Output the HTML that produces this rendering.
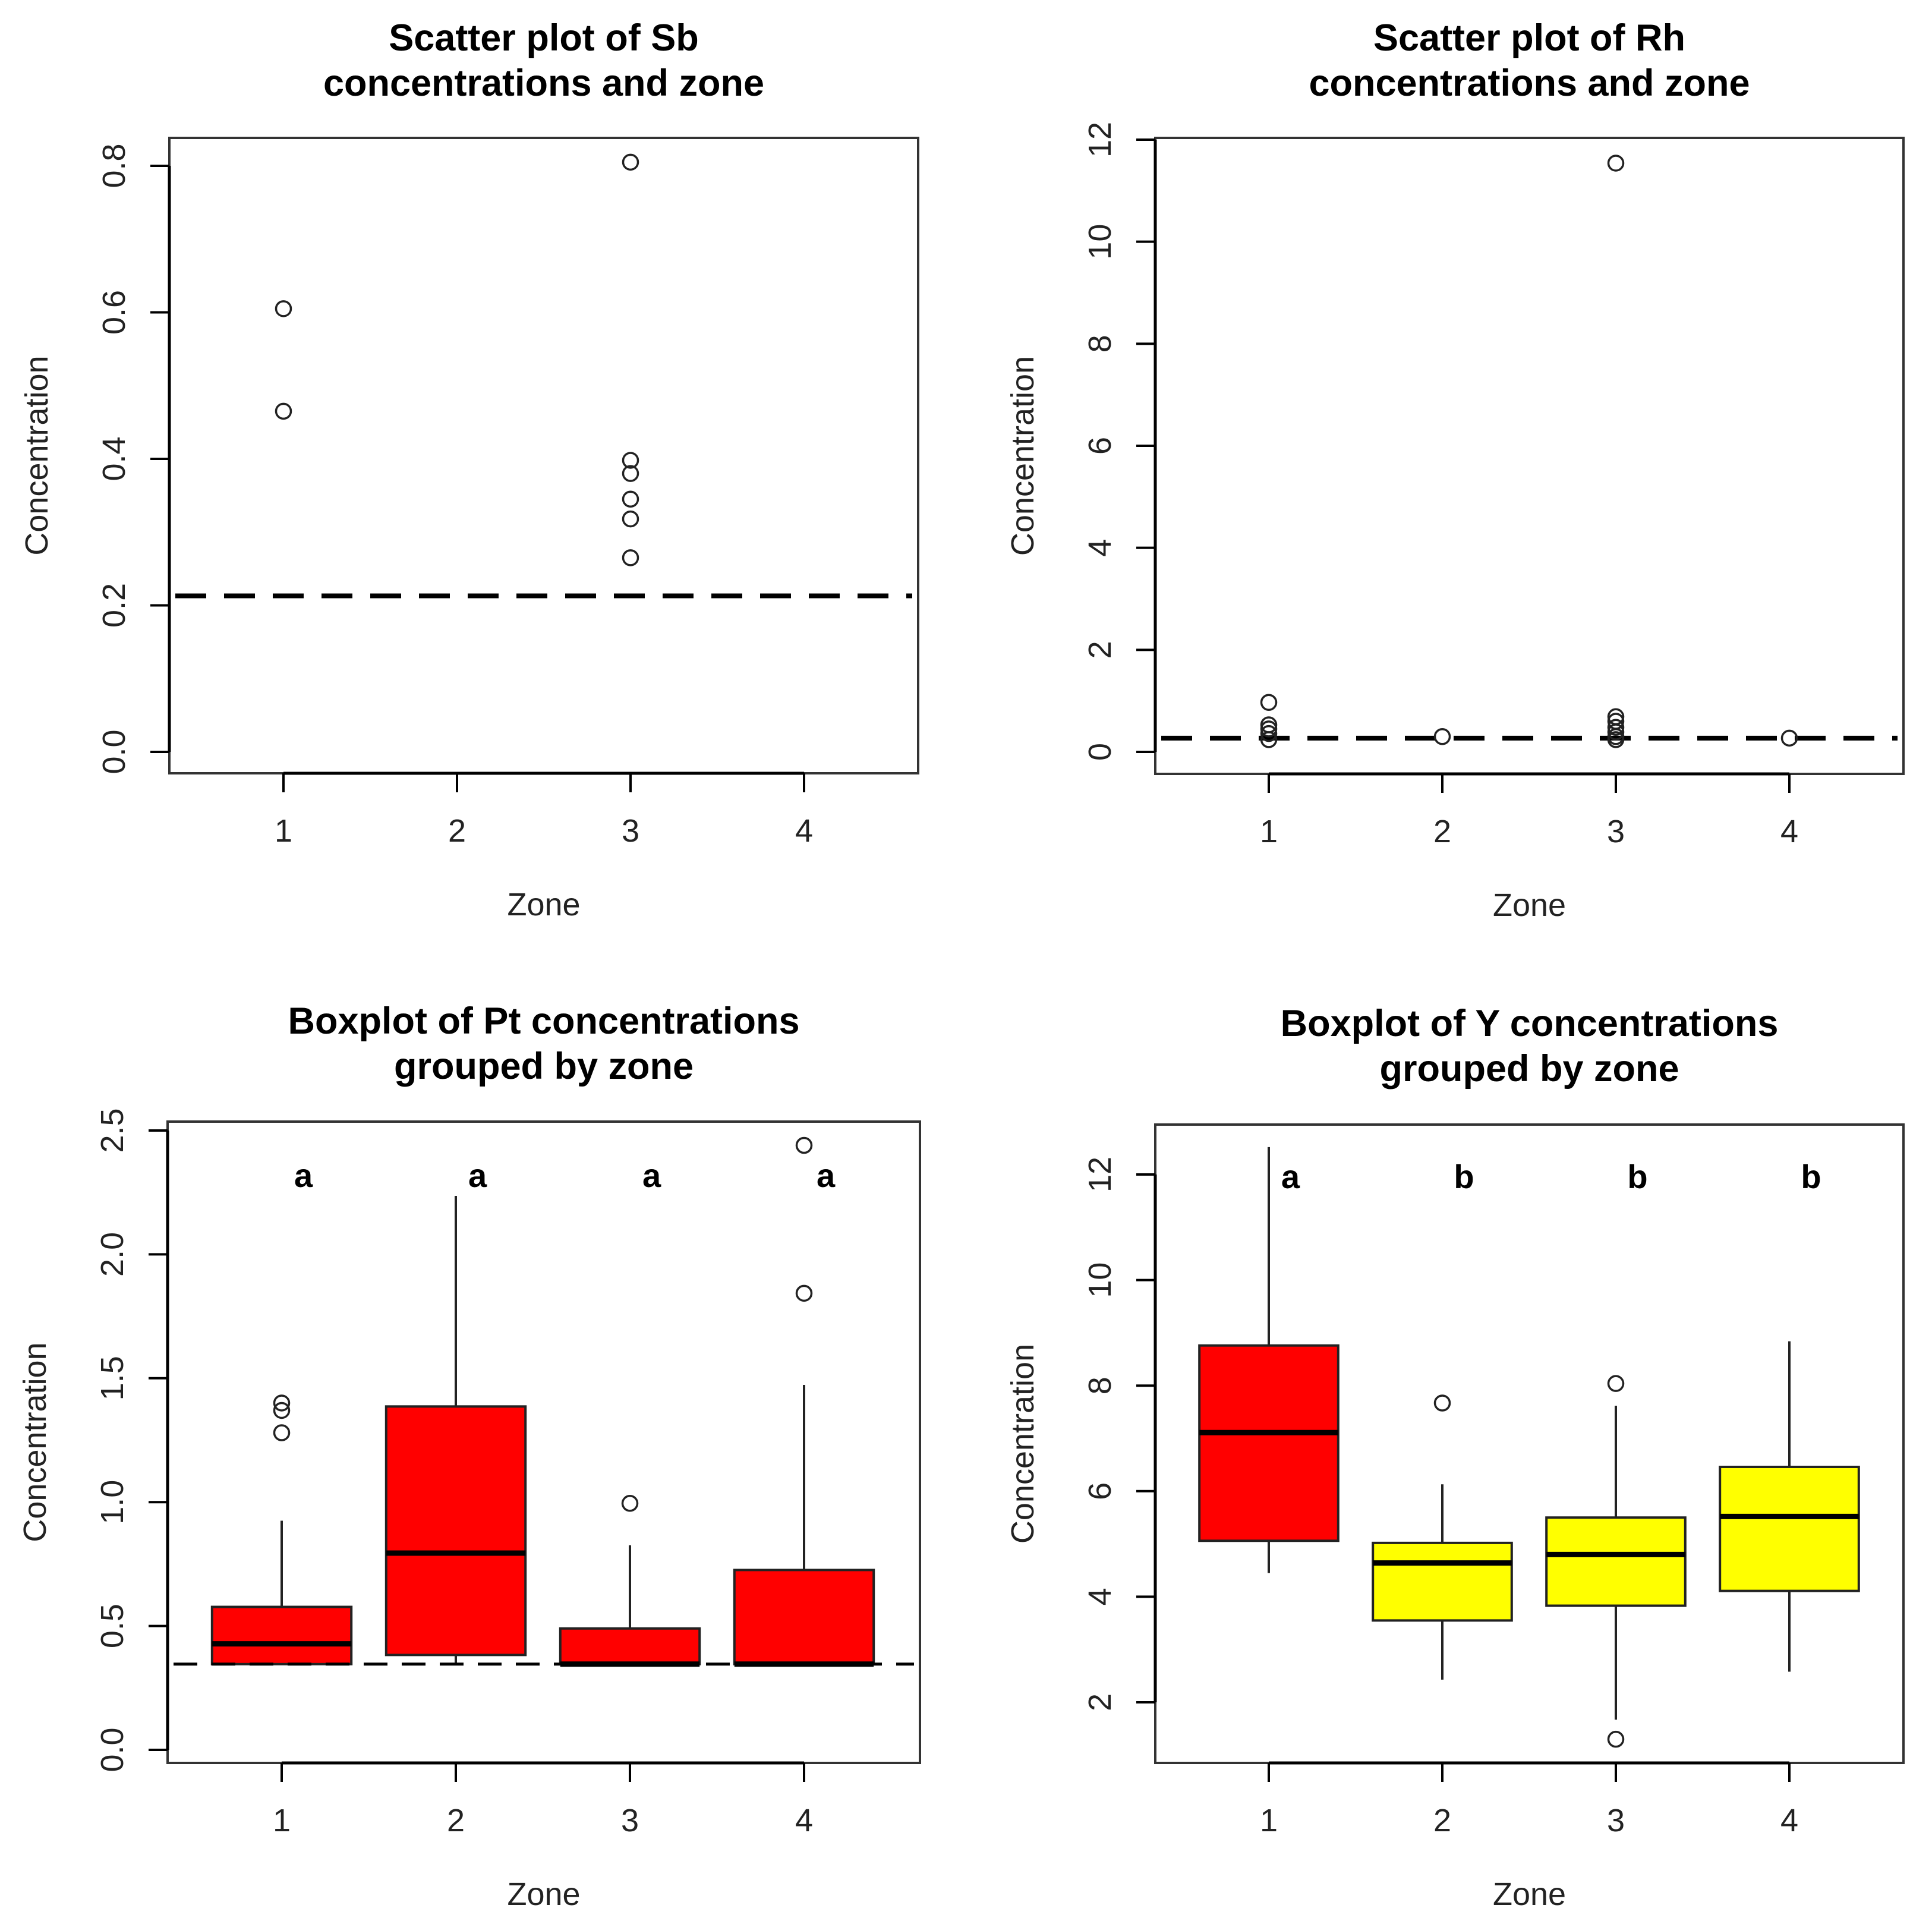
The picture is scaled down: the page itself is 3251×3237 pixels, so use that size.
<!DOCTYPE html>
<html><head><meta charset="utf-8">
<style>
html,body{margin:0;padding:0;background:#fff;}
svg{display:block;font-family:"Liberation Sans",Arial,sans-serif;}
</style></head>
<body>
<svg id="chart" width="3251" height="3237" viewBox="0 0 3251 3237" xmlns="http://www.w3.org/2000/svg">
<rect x="0" y="0" width="3251" height="3237" fill="#fff"/>
</svg>
<script>
// ---- data ----
const zones = [1, 2, 3, 4];
const zoneLabels = ["1", "2", "3", "4"];

// Sb scatter
const sbZones = [1, 1, 3, 3, 3, 3, 3, 3];
const sbValues = [0.605, 0.465, 0.805, 0.398, 0.380, 0.345, 0.318, 0.265];
const sbTicks = [0.0, 0.2, 0.4, 0.6, 0.8];
const sbTickLabels = ["0.0", "0.2", "0.4", "0.6", "0.8"];
const sbThreshold = 0.213;

// Rh scatter
const rhZones = [1, 1, 1, 1, 1, 2, 3, 3, 3, 3, 3, 3, 3, 4];
const rhValues = [0.97, 0.53, 0.45, 0.36, 0.24, 0.30, 11.54, 0.69, 0.60, 0.48, 0.39, 0.30, 0.24, 0.27];
const rhTicks = [0, 2, 4, 6, 8, 10, 12];
const rhTickLabels = ["0", "2", "4", "6", "8", "10", "12"];
const rhThreshold = 0.27;

// Pt boxplot
const ptLowWhisker = [0.346, 0.346, 0.346, 0.346];
const ptQ1 = [0.346, 0.383, 0.346, 0.346];
const ptMedian = [0.428, 0.794, 0.346, 0.346];
const ptQ3 = [0.577, 1.386, 0.490, 0.726];
const ptHighWhisker = [0.925, 2.236, 0.826, 1.473];
const ptOutlierZones = [1, 1, 1, 3, 4, 4];
const ptOutlierValues = [1.40, 1.37, 1.28, 0.995, 1.843, 2.44];
const ptLetters = ["a", "a", "a", "a"];
const ptTicks = [0.0, 0.5, 1.0, 1.5, 2.0, 2.5];
const ptTickLabels = ["0.0", "0.5", "1.0", "1.5", "2.0", "2.5"];
const ptThreshold = 0.346;
const ptColors = ["#ff0000", "#ff0000", "#ff0000", "#ff0000"];

// Y boxplot
const yLowWhisker = [4.45, 2.43, 1.67, 2.58];
const yQ1 = [5.06, 3.55, 3.83, 4.11];
const yMedian = [7.11, 4.64, 4.80, 5.52];
const yQ3 = [8.76, 5.02, 5.50, 6.46];
const yHighWhisker = [12.52, 6.13, 7.62, 8.84];
const yOutlierZones = [2, 3, 3];
const yOutlierValues = [7.67, 8.04, 1.30];
const yLetters = ["a", "b", "b", "b"];
const yTicks = [2, 4, 6, 8, 10, 12];
const yTickLabels = ["2", "4", "6", "8", "10", "12"];
const yColors = ["#ff0000", "#ffff00", "#ffff00", "#ffff00"];

const NS = "http://www.w3.org/2000/svg";
const svg = document.getElementById("chart");
function mk(tag, attrs, parent) {
  const e = document.createElementNS(NS, tag);
  for (const k in attrs) e.setAttribute(k, attrs[k]);
  (parent || svg).appendChild(e);
  return e;
}

function panel(cfg) {
  const g = mk("g", {});
  
  
  const b = cfg.box;
  const xs = z => cfg.x1 + (z - 1) * cfg.dx;
  const ys = v => cfg.yA + (v - cfg.vA) * (cfg.yB - cfg.yA) / (cfg.vB - cfg.vA);
  const cx = (b.l + b.r) / 2, cy = (b.t + b.b) / 2;

  cfg.title.forEach((t, i) => {
    const el = mk("text", {x: cx, y: cfg.titleY + i * 76, "text-anchor": "middle", "font-size": 63, "font-weight": "bold", fill: "#000"}, g);
    el.textContent = t;
    
    
  });

  if (cfg.boxes) {
    const bx = cfg.boxes;
    const hw = cfg.dx * 0.4;
    zones.forEach((z, i) => {
      const x = xs(z);
      const wl = mk("line", {x1: x, x2: x, y1: ys(bx.q3[i]), y2: ys(bx.hi[i]), stroke: "#222", "stroke-width": 4}, g);
      
      
      const wl2 = mk("line", {x1: x, x2: x, y1: ys(bx.q1[i]), y2: ys(bx.lo[i]), stroke: "#222", "stroke-width": 4}, g);
      
      
      const r = mk("rect", {x: x - hw, y: ys(bx.q3[i]), width: 2 * hw, height: Math.max(0, ys(bx.q1[i]) - ys(bx.q3[i])), fill: bx.colors[i], stroke: "#222", "stroke-width": 4}, g);
      
      
      const m = mk("line", {x1: x - hw, x2: x + hw, y1: ys(bx.med[i]), y2: ys(bx.med[i]), stroke: "#000", "stroke-width": 9}, g);
      
      
      const lt = mk("text", {x: x + cfg.dx * 0.125, y: ys(bx.letterV) + 16, "text-anchor": "middle", "font-size": 56, "font-weight": "bold"}, g);
      lt.textContent = bx.letters[i];
      
      
    });
  }
  if (cfg.threshold !== undefined) {
    const d = mk("line", {x1: b.l + 10, x2: b.r - 10, y1: ys(cfg.threshold), y2: ys(cfg.threshold), stroke: "#000", "stroke-width": cfg.dashW, "stroke-dasharray": cfg.dash}, g);
    
    
  }
  cfg.ptsZ.forEach((z, i) => {
    const c = mk("circle", {cx: xs(z), cy: ys(cfg.ptsV[i]), r: 12.5, fill: "none", stroke: "#222", "stroke-width": 3.5}, g);
    
    
  });

  const fr = mk("rect", {x: b.l, y: b.t, width: b.r - b.l, height: b.b - b.t, fill: "none", stroke: "#333", "stroke-width": 4}, g);
  
  

  const xa = mk("line", {x1: xs(zones[0]), x2: xs(zones[zones.length - 1]), y1: b.b, y2: b.b, stroke: "#000", "stroke-width": 5}, g);
  
  
  zones.forEach((z, i) => {
    const t = mk("line", {x1: xs(z), x2: xs(z), y1: b.b, y2: b.b + 32, stroke: "#000", "stroke-width": 4}, g);
    
    
    const l = mk("text", {x: xs(z), y: b.b + 115, "text-anchor": "middle", "font-size": 54, fill: "#222"}, g);
    l.textContent = zoneLabels[i];
    
    
  });
  const xt = mk("text", {x: cx, y: b.b + 239, "text-anchor": "middle", "font-size": 54, fill: "#222"}, g);
  xt.textContent = "Zone";
  
  

  const ya = mk("line", {x1: b.l, x2: b.l, y1: ys(cfg.ticks[0]), y2: ys(cfg.ticks[cfg.ticks.length - 1]), stroke: "#000", "stroke-width": 5}, g);
  
  
  cfg.ticks.forEach((v, i) => {
    const y = ys(v);
    const t = mk("line", {x1: b.l - 32, x2: b.l, y1: y, y2: y, stroke: "#000", "stroke-width": 4}, g);
    
    
    const lx = b.l - 75;
    const l = mk("text", {x: lx, y: y, "text-anchor": "middle", "font-size": 54, fill: "#222", transform: "rotate(-90 " + lx + " " + y + ")"}, g);
    l.textContent = cfg.tickLabels[i];
    
    
  });
  const tx = b.l - 205;
  const yt = mk("text", {x: tx, y: cy, "text-anchor": "middle", "font-size": 54, fill: "#222", transform: "rotate(-90 " + tx + " " + cy + ")"}, g);
  yt.textContent = "Concentration";
  
  
}

panel({name: "sb-scatter-panel", box: {l: 285, r: 1545, t: 232, b: 1301}, x1: 477, dx: 292,
  yA: 1265, vA: 0, yB: 279, vB: 0.8, ticks: sbTicks, tickLabels: sbTickLabels,
  title: ["Scatter plot of Sb", "concentrations and zone"], titleY: 85,
  ptsZ: sbZones, ptsV: sbValues, threshold: sbThreshold, dashW: 8, dash: "52 30"});

panel({name: "rh-scatter-panel", box: {l: 1944, r: 3203, t: 232, b: 1302}, x1: 2135, dx: 292,
  yA: 1265, vA: 0, yB: 235, vB: 12, ticks: rhTicks, tickLabels: rhTickLabels,
  title: ["Scatter plot of Rh", "concentrations and zone"], titleY: 85,
  ptsZ: rhZones, ptsV: rhValues, threshold: rhThreshold, dashW: 8, dash: "52 30"});

panel({name: "pt-boxplot-panel", box: {l: 282, r: 1548, t: 1887, b: 2966}, x1: 474, dx: 293,
  yA: 2944, vA: 0, yB: 1902, vB: 2.5, ticks: ptTicks, tickLabels: ptTickLabels,
  title: ["Boxplot of Pt concentrations", "grouped by zone"], titleY: 1739,
  ptsZ: ptOutlierZones, ptsV: ptOutlierValues, threshold: ptThreshold, dashW: 5, dash: "40 24",
  boxes: {lo: ptLowWhisker, q1: ptQ1, med: ptMedian, q3: ptQ3, hi: ptHighWhisker, colors: ptColors, letters: ptLetters, letterV: 2.31}});

panel({name: "y-boxplot-panel", box: {l: 1944, r: 3203, t: 1892, b: 2966}, x1: 2135, dx: 292,
  yA: 2864, vA: 2, yB: 1976, vB: 12, ticks: yTicks, tickLabels: yTickLabels,
  title: ["Boxplot of Y concentrations", "grouped by zone"], titleY: 1743,
  ptsZ: yOutlierZones, ptsV: yOutlierValues,
  boxes: {lo: yLowWhisker, q1: yQ1, med: yMedian, q3: yQ3, hi: yHighWhisker, colors: yColors, letters: yLetters, letterV: 11.92}});
</script>
</body></html>
